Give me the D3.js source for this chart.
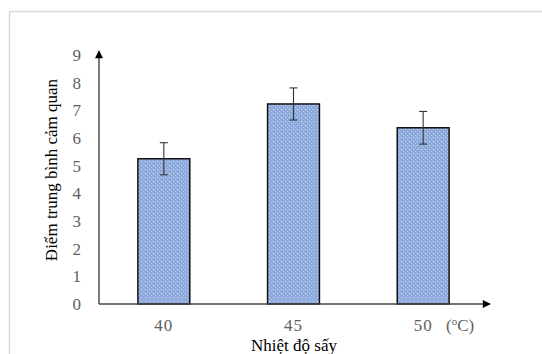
<!DOCTYPE html>
<html>
<head>
<meta charset="utf-8">
<script src="https://cdn.jsdelivr.net/npm/d3@7"></script>
<style>
  body { margin: 0; background: #fff; }
  svg { display: block; font-family: "Liberation Serif", "Times New Roman", serif; }
</style>
</head>
<body>
<svg width="542" height="354"></svg>
<script>
// data
let categories = ["40", "45", "50"]
let means = [5.25, 7.23, 6.37]
let errors = [0.58, 0.58, 0.59]
let yTicks = [0, 1, 2, 3, 4, 5, 6, 7, 8, 9]

let data = categories.map((c, i) => ({ cat: c, value: means[i], err: errors[i] }))

var svg = d3.select("svg")

// faint frame of the original picture
svg.append("line").attr("x1", 9.5).attr("x2", 542).attr("y1", 11.5).attr("y2", 11.5)
    .attr("stroke", "#d9d9d9").attr("stroke-width", 1.5)
svg.append("line").attr("x1", 9.5).attr("x2", 9.5).attr("y1", 11.5).attr("y2", 354)
    .attr("stroke", "#d9d9d9").attr("stroke-width", 1.5)

var defs = svg.append("defs")
var pat = defs.append("pattern")
    .attr("id", "dots")
    .attr("patternUnits", "userSpaceOnUse")
    .attr("width", 4).attr("height", 4)
pat.append("rect").attr("width", 4).attr("height", 4).attr("fill", "#8eaadc")
pat.append("rect").attr("x", 1).attr("y", 1).attr("width", 1).attr("height", 1).attr("fill", "#d4def3")
pat.append("rect").attr("x", 3).attr("y", 3).attr("width", 1).attr("height", 1).attr("fill", "#b3c6ea")

defs.append("marker")
    .attr("id", "arrow")
    .attr("viewBox", "0 0 10 10")
    .attr("refX", 9).attr("refY", 5)
    .attr("markerWidth", 10).attr("markerHeight", 8)
    .attr("markerUnits", "userSpaceOnUse")
    .attr("orient", "auto")
    .append("path").attr("d", "M0,0L10,5L0,10Z").attr("fill", "#000")

var x0 = 99, x1 = 490, yBase = 304

var x = d3.scaleBand().domain(categories).range([x0, 488]).paddingInner(0.6).paddingOuter(0.3)
var y = d3.scaleLinear().domain([0, 9]).range([yBase, 55])

// bars
svg.selectAll(".bar")
    .data(data)
    .enter().append("rect")
    .attr("class", "bar")
    .attr("x", d => x(d.cat))
    .attr("y", d => y(d.value))
    .attr("width", x.bandwidth())
    .attr("height", d => yBase - y(d.value))
    .attr("fill", "url(#dots)")
    .attr("stroke", "#111")
    .attr("stroke-width", 1.5)

// error bars
var eb = svg.selectAll(".err").data(data).enter().append("g").attr("class", "err")
    .attr("stroke", "#333").attr("stroke-width", 1.1)
eb.append("line")
    .attr("x1", d => x(d.cat) + x.bandwidth() / 2)
    .attr("x2", d => x(d.cat) + x.bandwidth() / 2)
    .attr("y1", d => y(d.value + d.err))
    .attr("y2", d => y(d.value - d.err))
eb.append("line")
    .attr("x1", d => x(d.cat) + x.bandwidth() / 2 - 4)
    .attr("x2", d => x(d.cat) + x.bandwidth() / 2 + 4)
    .attr("y1", d => y(d.value + d.err))
    .attr("y2", d => y(d.value + d.err))
eb.append("line")
    .attr("x1", d => x(d.cat) + x.bandwidth() / 2 - 4)
    .attr("x2", d => x(d.cat) + x.bandwidth() / 2 + 4)
    .attr("y1", d => y(d.value - d.err))
    .attr("y2", d => y(d.value - d.err))

// axes with arrows
svg.append("line").attr("x1", x0).attr("x2", x0).attr("y1", yBase).attr("y2", 51)
    .attr("stroke", "#222").attr("stroke-width", 1.2).attr("marker-end", "url(#arrow)")
svg.append("line").attr("x1", x0).attr("x2", x1).attr("y1", yBase).attr("y2", yBase)
    .attr("stroke", "#444").attr("stroke-width", 1.5).attr("marker-end", "url(#arrow)")

// y tick labels
svg.selectAll(".ytick")
    .data(yTicks)
    .enter().append("text")
    .attr("class", "ytick")
    .attr("x", 81)
    .attr("y", d => y(d))
    .attr("dy", "0.35em")
    .attr("text-anchor", "end")
    .attr("font-size", "17px")
    .attr("fill", "#606060")
    .text(d => d)

// x tick labels
svg.selectAll(".xtick")
    .data(categories)
    .enter().append("text")
    .attr("class", "xtick")
    .attr("x", d => x(d) + x.bandwidth() / 2)
    .attr("y", 331)
    .attr("text-anchor", "middle")
    .attr("font-size", "17px")
    .attr("letter-spacing", "1px")
    .attr("fill", "#606060")
    .text(d => d)

var unit = svg.append("text")
    .attr("x", 446)
    .attr("y", 331)
    .attr("font-size", "17px")
    .attr("fill", "#606060")
unit.append("tspan").text("(")
unit.append("tspan").attr("font-size", "11px").attr("dy", -6).text("o")
unit.append("tspan").attr("dy", 6).text("C)")

// axis titles
svg.append("text")
    .attr("x", 294)
    .attr("y", 351)
    .attr("text-anchor", "middle")
    .attr("font-size", "17px")
    .attr("fill", "#000")
    .text("Nhiệt độ sấy")

svg.append("text")
    .attr("transform", "translate(57,170) rotate(-90)")
    .attr("text-anchor", "middle")
    .attr("font-size", "17px")
    .attr("fill", "#000")
    .text("Điểm trung bình cảm quan")
</script>
</body>
</html>
